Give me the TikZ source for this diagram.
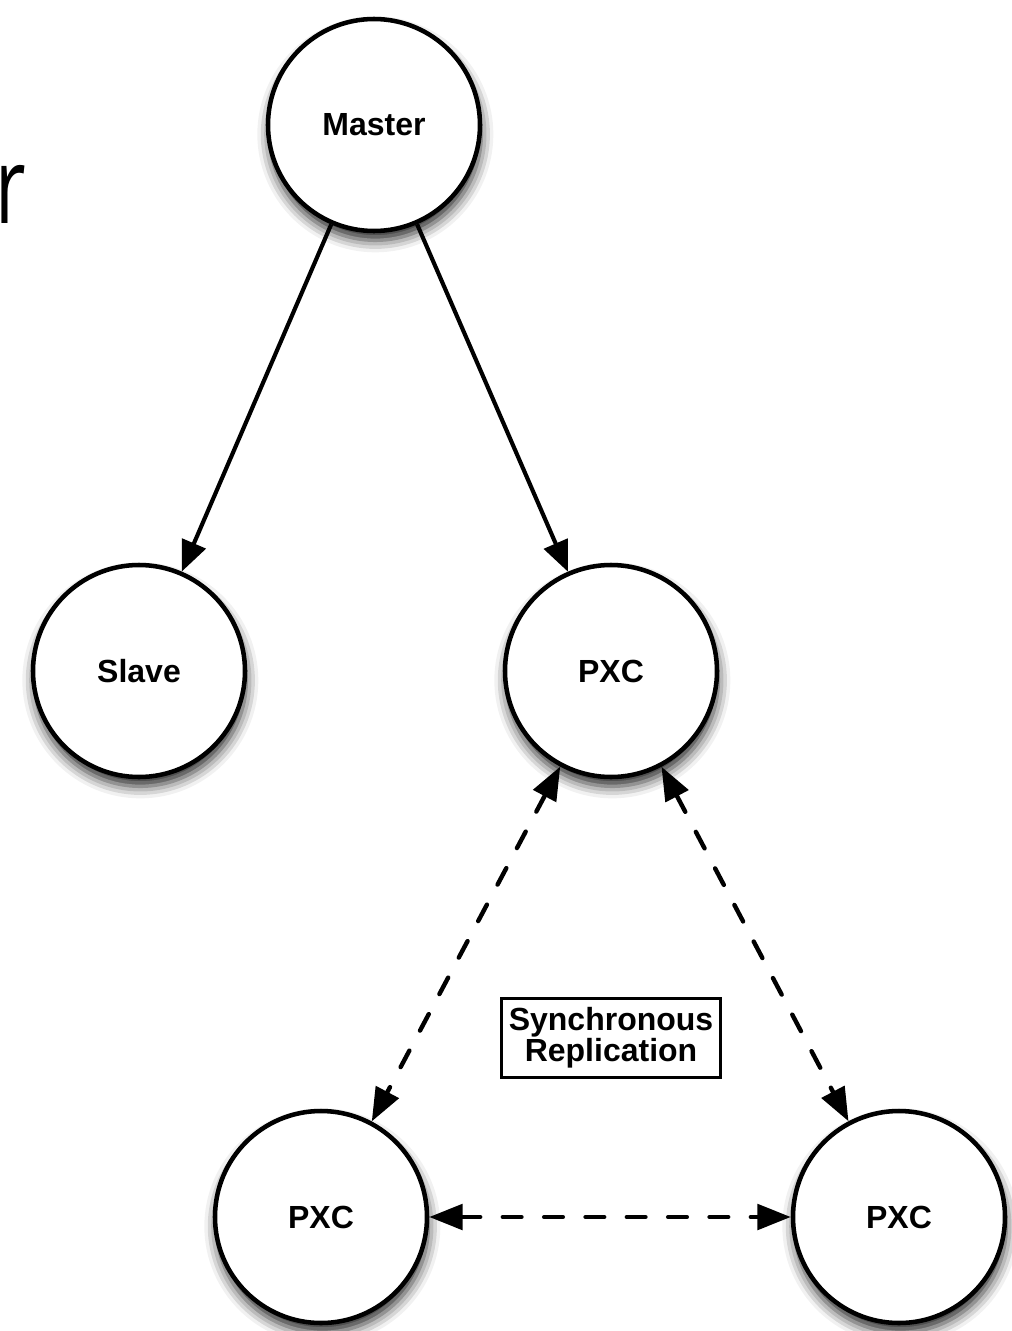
\documentclass[tikz,border=0pt]{standalone}
\usepackage{fontspec}
\setmainfont{Liberation Sans}
\newfontfamily\titlefont{Open Sans}
\usetikzlibrary{arrows.meta,shadows.blur}

\begin{document}
\begin{tikzpicture}[x=0.75pt, y=-0.75pt, font=\bfseries\fontsize{24}{23}\selectfont,
  db/.style={circle, draw, line width=3.4pt, fill=white, minimum size=159pt, inner sep=0pt, blur shadow={shadow xshift=1pt, shadow yshift=-7pt, shadow blur radius=9pt, shadow opacity=85}},
  feed/.style={line width=3.1pt, -{Triangle[length=23pt, width=19pt]}},
  sync/.style={line width=3.3pt, line cap=round, dash pattern=on 14pt off 17pt, {Triangle[length=25pt, width=19pt]}-{Triangle[length=25pt, width=19pt]}}]
\useasboundingbox (0,0) rectangle (1012,1331);
\node[anchor=base west, font=\titlefont\fontsize{80}{80}\selectfont] (title) at (-9,223) {\scalebox{0.7}[1]{r}};
\node[db] (master) at (374,125) {Master};
\node[db] (slave) at (139,671) {Slave}; \node[db] (pxcA) at (611,671) {PXC};
\node[db] (pxcB) at (321,1217) {PXC}; \node[db] (pxcC) at (899,1217) {PXC};
\node[draw, line width=2.3pt, fill=white, align=center, inner xsep=5.5pt, inner ysep=7pt] (note) at (611,1038) {Synchronous\\Replication};
\draw[feed] (master) -- (slave); \draw[feed] (master) -- (pxcA);
\draw[sync] (pxcA) -- (pxcB); \draw[sync] (pxcA) -- (pxcC); \draw[sync] (pxcB) -- (pxcC);
\end{tikzpicture}
\end{document}
